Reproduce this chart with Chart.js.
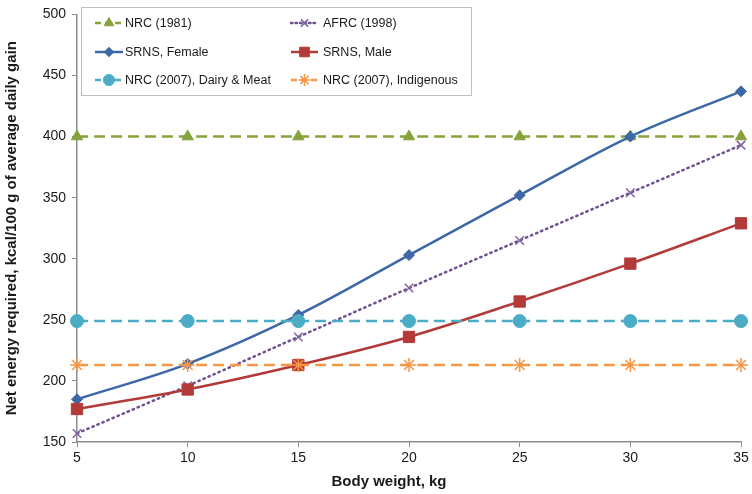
<!DOCTYPE html>
<html><head><meta charset="utf-8">
<script src="https://cdn.jsdelivr.net/npm/chart.js@4/dist/chart.umd.min.js"></script>
<style>html,body{margin:0;padding:0;background:#fff}#wrap{position:relative;width:752px;height:494px}</style>
</head><body><div id="wrap"><canvas id="c" width="752" height="494"></canvas></div>
<script>
const bodyWeight = [5, 10, 15, 20, 25, 30, 35];
const nrc1981 = [400, 400, 400, 400, 400, 400, 400];
const afrc1998 = [157, 196, 236, 276, 315, 354, 393];
const srnsFemale = [185, 214, 254, 303, 352, 400, 437];
const srnsMale = [177, 193, 213, 236, 265, 296, 329];
const nrc2007Dairy = [249, 249, 249, 249, 249, 249, 249];
const nrc2007Indig = [213, 213, 213, 213, 213, 213, 213];
const seriesNames = ["NRC (1981)", "AFRC (1998)", "SRNS, Female", "SRNS, Male", "NRC (2007), Dairy & Meat", "NRC (2007), Indigenous"];
const yTicks = [150, 200, 250, 300, 350, 400, 450, 500];
const xTitle = 'Body weight, kg';
const yTitle = 'Net energy required, kcal/100 g of average daily gain';

const FONT = "'Liberation Sans', Arial, sans-serif";
const pts = arr => arr.map((v, i) => ({x: bodyWeight[i], y: v}));

const styles = [
  {color:'#86A23A', pcolor:'#86A23A', dash:[11,6], width:2.5, ps:'triangle', r:6.5, order:5},
  {color:'#71518F', pcolor:'#8064A2', dash:[1.5,4], width:2.5, ps:'crossRot', r:6, order:4, cap:'round'},
  {color:'#3D67A6', pcolor:'#3D67A6', dash:[], width:2.5, ps:'rectRot', r:5.5, order:3},
  {color:'#B23A38', pcolor:'#B23A38', dash:[], width:2.5, ps:'rect', r:8, order:2},
  {color:'#4BACC6', pcolor:'#4BACC6', dash:[11,6], width:2.5, ps:'circle', r:6.5, order:1},
  {color:'#F79646', pcolor:'#F79646', dash:[11,6], width:2.5, ps:'star', r:7, order:0}
];
const allData = [nrc1981, afrc1998, srnsFemale, srnsMale, nrc2007Dairy, nrc2007Indig];

const datasets = allData.map((d, i) => {
  const s = styles[i];
  return {
    label: seriesNames[i], data: pts(d), borderColor: s.color, backgroundColor: s.pcolor,
    borderWidth: s.width, borderDash: s.dash, borderCapStyle: s.cap || 'butt',
    pointStyle: s.ps, pointRadius: s.r, pointBackgroundColor: s.pcolor, pointBorderColor: s.pcolor,
    pointBorderWidth: (s.ps === 'crossRot' || s.ps === 'star') ? 1.5 : 1,
    tension: 0.35, order: s.order, fill: false, clip: false
  };
});

const legendPlugin = {
  id: 'boxLegend',
  afterDraw(chart) {
    const ctx = chart.ctx;
    ctx.save();
    ctx.fillStyle = '#fff';
    ctx.fillRect(81.5, 7.5, 390, 88);
    ctx.strokeStyle = '#BFBFBF';
    ctx.lineWidth = 1;
    ctx.strokeRect(81.5, 7.5, 390, 88);
    const cols = [{x0:95, x1:123, tx:125}, {x0:291, x1:318, tx:323}];
    const rows = [23, 52, 80];
    ctx.font = '12.5px ' + FONT;
    ctx.textBaseline = 'middle';
    ctx.textAlign = 'left';
    datasets.forEach((ds, i) => {
      const c = cols[i % 2], y = rows[Math.floor(i / 2)];
      const s = styles[i];
      ctx.save();
      ctx.strokeStyle = s.color; ctx.lineWidth = s.width;
      ctx.setLineDash(s.dash.length ? (s.ps === 'crossRot' ? [1.5, 3] : [6, 4]) : []);
      ctx.lineCap = s.cap || 'butt';
      ctx.beginPath(); ctx.moveTo(c.x0, y); ctx.lineTo(c.x1, y); ctx.stroke();
      ctx.restore();
      ctx.save();
      ctx.fillStyle = s.pcolor; ctx.strokeStyle = s.pcolor;
      ctx.lineWidth = (s.ps === 'crossRot' || s.ps === 'star') ? 1.5 : 1;
      Chart.helpers.drawPoint(ctx, {pointStyle: s.ps, radius: s.r * 0.85, borderWidth: ctx.lineWidth}, (c.x0 + c.x1) / 2, y);
      ctx.restore();
      ctx.fillStyle = '#1a1a1a';
      ctx.fillText(ds.label, c.tx, y + 1);
    });
    // x-axis title (reference places it slightly left of the plot centre)
    ctx.font = 'bold 15px ' + FONT;
    ctx.textAlign = 'center';
    ctx.fillStyle = '#1a1a1a';
    ctx.fillText(xTitle, 389, 482);
    ctx.restore();
  }
};

new Chart(document.getElementById('c'), {
  type: 'line',
  data: { datasets },
  options: {
    responsive: false, animation: false,
    layout: { padding: { left: 0, right: 11, top: 8, bottom: 0 } },
    plugins: { legend: { display: false }, tooltip: { enabled: false } },
    scales: {
      x: {
        type: 'linear', min: 5, max: 35,
        grid: { display: true, drawOnChartArea: false, drawTicks: true, tickLength: 5, color: '#8c8c8c', tickColor: '#8c8c8c' },
        border: { color: '#8c8c8c', width: 1.5 },
        ticks: { stepSize: 5, color: '#1a1a1a', font: { family: FONT, size: 14 }, padding: 3, maxRotation: 0 },
        title: { display: false },
        afterFit(s) { s.height = 52; }
      },
      y: {
        min: 150, max: 500,
        afterBuildTicks(s) { s.ticks = yTicks.map(v => ({ value: v })); },
        grid: { display: true, drawOnChartArea: false, drawTicks: true, tickLength: 5, color: '#8c8c8c', tickColor: '#8c8c8c' },
        border: { color: '#8c8c8c', width: 1.5 },
        ticks: { color: '#1a1a1a', font: { family: FONT, size: 14 }, padding: 6 },
        title: { display: true, text: yTitle, color: '#1a1a1a', font: { family: FONT, size: 15, weight: 'bold' }, padding: { top: 3, bottom: 4 } },
        afterFit(s) { s.width = 77; }
      }
    }
  },
  plugins: [legendPlugin]
});
</script></body></html>
